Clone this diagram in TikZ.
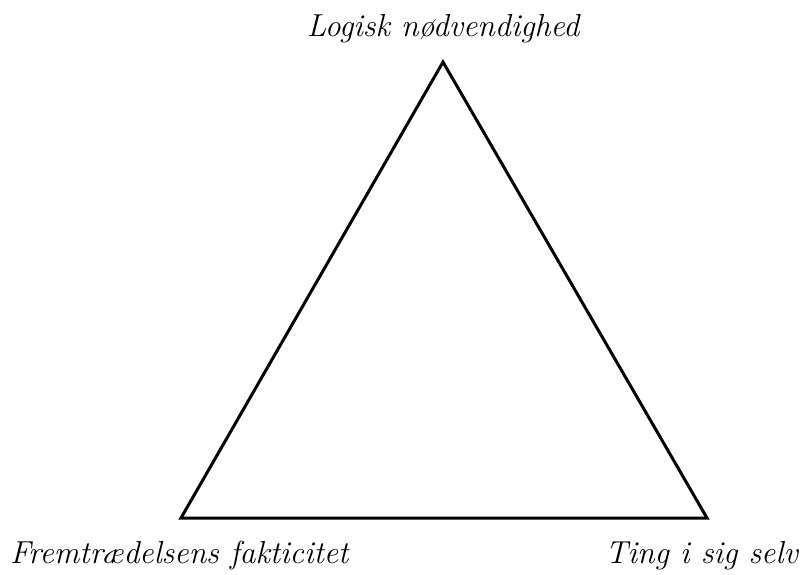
\documentclass[tikz,border=0pt]{standalone}
\usepackage{fontspec}
\begin{document}
\begin{tikzpicture}[x=1pt,y=1pt,
  lbl/.style={inner sep=0pt,font=\fontsize{31.8}{36}\selectfont\itshape},
  edge/.style={line width=3pt,line join=miter}]
\useasboundingbox (0,0) rectangle (805,574);
\coordinate (top) at (443,512);
\coordinate (bl) at (181,56);
\coordinate (br) at (707,56);
\draw[edge] (top) -- (bl) -- (br) -- cycle;
\node[lbl,anchor=base] (ltop) at (443,537) {Logisk nødvendighed};
\node[lbl,anchor=base west] (lbl) at (10,11) {Fremtrædelsens fakticitet};
\node[lbl,anchor=base east] (lbr) at (798,11) {Ting i sig selv};
\end{tikzpicture}
\end{document}
